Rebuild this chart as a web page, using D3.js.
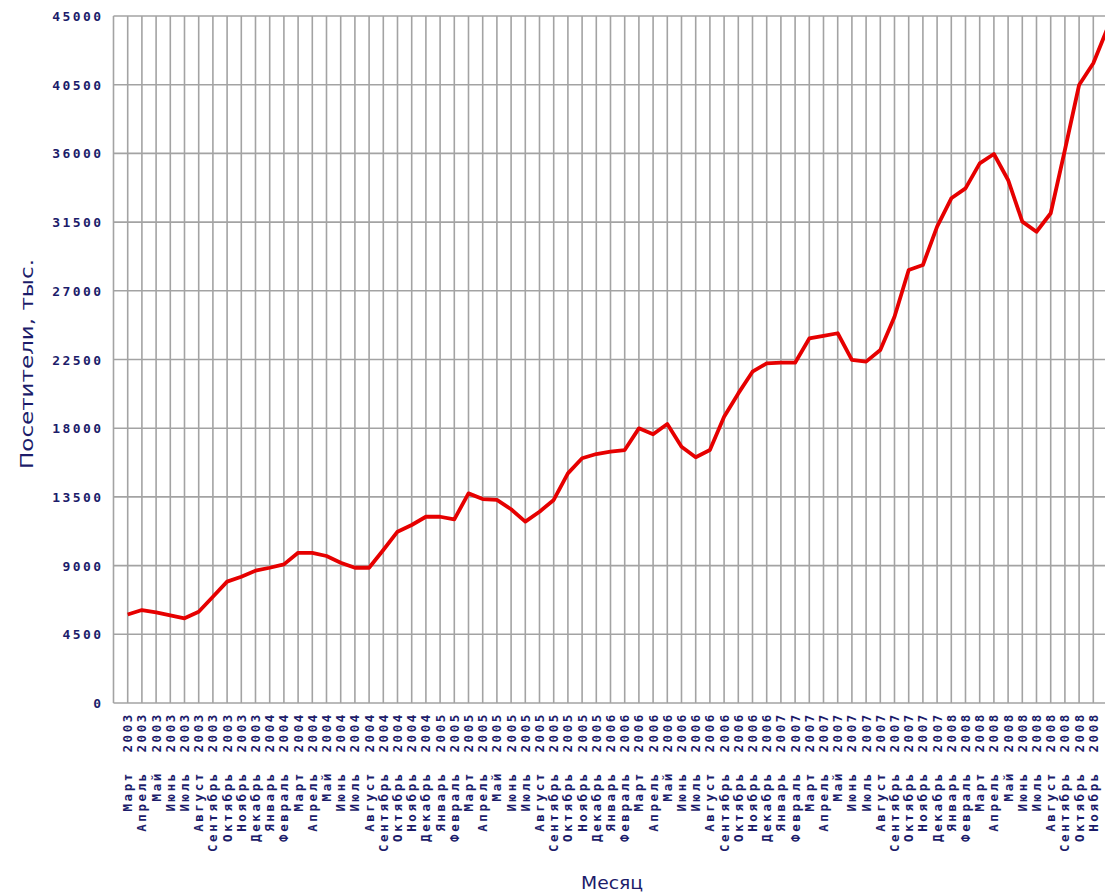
<!DOCTYPE html>
<html>
<head>
<meta charset="utf-8">
<script src="https://cdn.jsdelivr.net/npm/d3@7"></script>
<style>
  body { margin: 0; background: #fff; }
  svg { display: block; }
  text { fill: #1c1c6a; }
</style>
</head>
<body>
<div id="graph"></div>
<script>
var monthNames = ['Январь', 'Февраль', 'Март', 'Апрель', 'Май', 'Июнь', 'Июль',
  'Август', 'Сентябрь', 'Октябрь', 'Ноябрь', 'Декабрь']
var years = [2003, 2004, 2005, 2006, 2007, 2008]
var firstMonth = 2 // март 2003

// посетители, тыс. (март 2003 .. декабрь 2008)
var visitors = [
  5800, 6090, 5940, 5740, 5550, 5980, 6960, 7950, 8270, 8670, 8860, 9080,
  9840, 9840, 9630, 9190, 8860, 8860, 10020, 11220, 11660, 12200, 12200, 12030,
  13730, 13360, 13300, 12690, 11880, 12530, 13300, 15040, 16030, 16310, 16460, 16570,
  17990, 17600, 18270, 16790, 16100, 16570, 18750, 20280, 21700, 22250, 22290, 22290,
  23880, 24040, 24220, 22470, 22360, 23120, 25300, 28360, 28690, 31200, 33060, 33710,
  35350, 35960, 34260, 31530, 30870, 32080, 36220, 40480, 41900, 44200
]
var yTicks = [0, 4500, 9000, 13500, 18000, 22500, 27000, 31500, 36000, 40500, 45000]

var periods = []
years.forEach(y => monthNames.forEach((m, mi) => {
  if (y == years[0] && mi < firstMonth) return
  periods.push({key: y + '-' + mi, month: m, year: y})
}))
var data = visitors.map((v, i) => ({key: periods[i].key, v, p: periods[i]}))

var width = 1105, height = 893
var pLeft = 113.5, pTop = 16, pBottom = 703

var svg = d3.select('#graph').append('svg')
  .attr('width', width).attr('height', height)

var x = d3.scalePoint()
  .domain(data.map(d => d.key))
  .range([pLeft, pLeft + 14.2 * (data.length + 1)])
  .padding(1)

var y = d3.scaleLinear().domain([0, 45000]).range([pBottom, pTop])

var grid = svg.append('g').attr('stroke', '#a3a3a3').attr('stroke-width', 1.6)

// vertical grid, one line per month
grid.selectAll('line.v').data(data).join('line')
  .attr('class', 'v')
  .attr('x1', d => x(d.key)).attr('x2', d => x(d.key))
  .attr('y1', pTop).attr('y2', pBottom)

// horizontal grid
grid.selectAll('line.h').data(yTicks).join('line')
  .attr('class', 'h')
  .attr('x1', pLeft).attr('x2', width)
  .attr('y1', d => y(d)).attr('y2', d => y(d))

grid.append('line')
  .attr('x1', pLeft).attr('x2', pLeft)
  .attr('y1', pTop).attr('y2', pBottom)

// y axis labels
var yAxis = svg.append('g')
  .attr('transform', `translate(${pLeft - 10},0)`)
  .call(d3.axisLeft(y).tickValues(yTicks).tickFormat(d3.format('d'))
    .tickSize(0).tickPadding(0))
yAxis.select('.domain').remove()
yAxis.selectAll('text')
  .attr('dy', '0.35em')
  .style('font-family', '"DejaVu Sans Mono", monospace')
  .style('font-weight', 'bold')
  .style('font-size', '13px')
  .style('letter-spacing', '2.4px')
  .style('fill', '#1c1c6a')

// x labels: year next to the axis, month name below it (only those inside the picture)
var xl = svg.append('g')
  .style('font-family', '"DejaVu Sans Mono", monospace')
  .style('font-size', '12.5px')
  .style('font-weight', 'bold')
  .style('letter-spacing', '2.6px')

var lab = xl.selectAll('g').data(data.filter(d => x(d.key) < width - 8)).join('g')
  .attr('transform', d => `translate(${x(d.key) + 4.5},0)`)

lab.append('text')
  .attr('transform', 'translate(0,712) rotate(-90)')
  .attr('text-anchor', 'end')
  .text(d => d.p.year)

lab.append('text')
  .attr('transform', 'translate(0,771) rotate(-90)')
  .attr('text-anchor', 'end')
  .text(d => d.p.month)

// line
var line = d3.line().x(d => x(d.key)).y(d => y(d.v))
svg.append('path')
  .datum(data)
  .attr('d', line)
  .attr('fill', 'none')
  .attr('stroke', '#e60000')
  .attr('stroke-width', 3.8)
  .attr('stroke-linejoin', 'round')

// axis titles
svg.append('text')
  .attr('transform', 'translate(33,364) rotate(-90)')
  .attr('text-anchor', 'middle')
  .attr('textLength', 210)
  .attr('lengthAdjust', 'spacingAndGlyphs')
  .style('font-family', '"DejaVu Sans", sans-serif')
  .style('font-size', '17px')
  .text('Посетители, тыс.')

svg.append('text')
  .attr('x', 612).attr('y', 889)
  .attr('text-anchor', 'middle')
  .attr('textLength', 62)
  .attr('lengthAdjust', 'spacingAndGlyphs')
  .style('font-family', '"DejaVu Sans", sans-serif')
  .style('font-size', '17px')
  .text('Месяц')
</script>
</body>
</html>
